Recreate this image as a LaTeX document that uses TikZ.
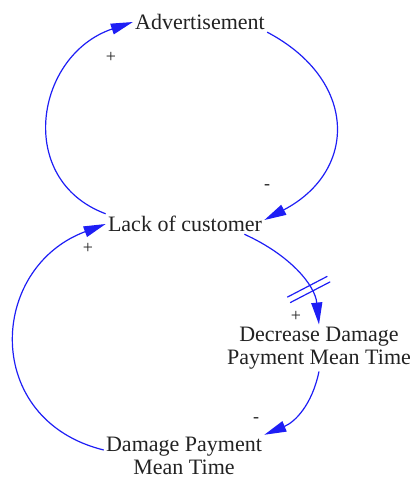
\documentclass[tikz,border=0pt]{standalone}
\usepackage{fontspec}
\setmainfont{Liberation Serif}
\usetikzlibrary{arrows.meta,positioning}
\definecolor{linkblue}{RGB}{30,30,245}
\definecolor{textgray}{RGB}{34,34,34}
\tikzset{
  var/.style   = {text=textgray, font=\fontsize{11}{11.5}\selectfont,
                  inner sep=1pt, align=center},
  link/.style  = {draw=linkblue, line width=0.6pt, ->},
  sign/.style  = {text=textgray, font=\fontsize{9}{9}\selectfont, inner sep=0pt},
  delaymark/.style = {sloped, inner sep=0pt, minimum width=2.5pt,
                  minimum height=22pt}
}

\begin{document}
\begin{tikzpicture}[x=0.5pt, y=-0.5pt,
  >={Triangle[length=11pt,width=5.5pt]}]
\useasboundingbox (0,0) rectangle (414,479);

\node[var] (adv)  at (200,22)  {Advertisement};
\node[var] (lack) at (185,224) {Lack of customer};
\node[var] (dec)  at (319,348) {Decrease Damage\\Payment Mean Time};
\node[var] (dmg)  at (184,456) {Damage Payment\\Mean Time};

% causal links
\draw[link] (adv.south east) .. controls (358,80) and (358,171) .. ([yshift=2pt]lack.east);
\draw[link] (lack.north west) .. controls (15,180) and (35,55) .. (adv.west);
\draw[link] ([xshift=-10pt]lack.south east) .. controls (290,255) and (315,285) .. (dec.north)
  node[delaymark, pos=0.68] (dl) {};
\draw[link] (dec.south) .. controls (312,405) and (295,422) .. (dmg.north east);
\draw[link] ([yshift=3pt]dmg.west) .. controls (-18,420) and (-12,268) .. (lack.west);

% delay
\draw[linkblue, line width=0.6pt] (dl.north west) -- (dl.south west)
  (dl.north east) -- (dl.south east);

% polarities
\node[sign] (s1) at (111,57)  {+};
\node[sign] (s2) at (267,187) {-};
\node[sign] (s3) at (296,316) {+};
\node[sign] (s4) at (256,420) {-};
\node[sign] (s5) at (88,248)  {+};
\end{tikzpicture}
\end{document}
